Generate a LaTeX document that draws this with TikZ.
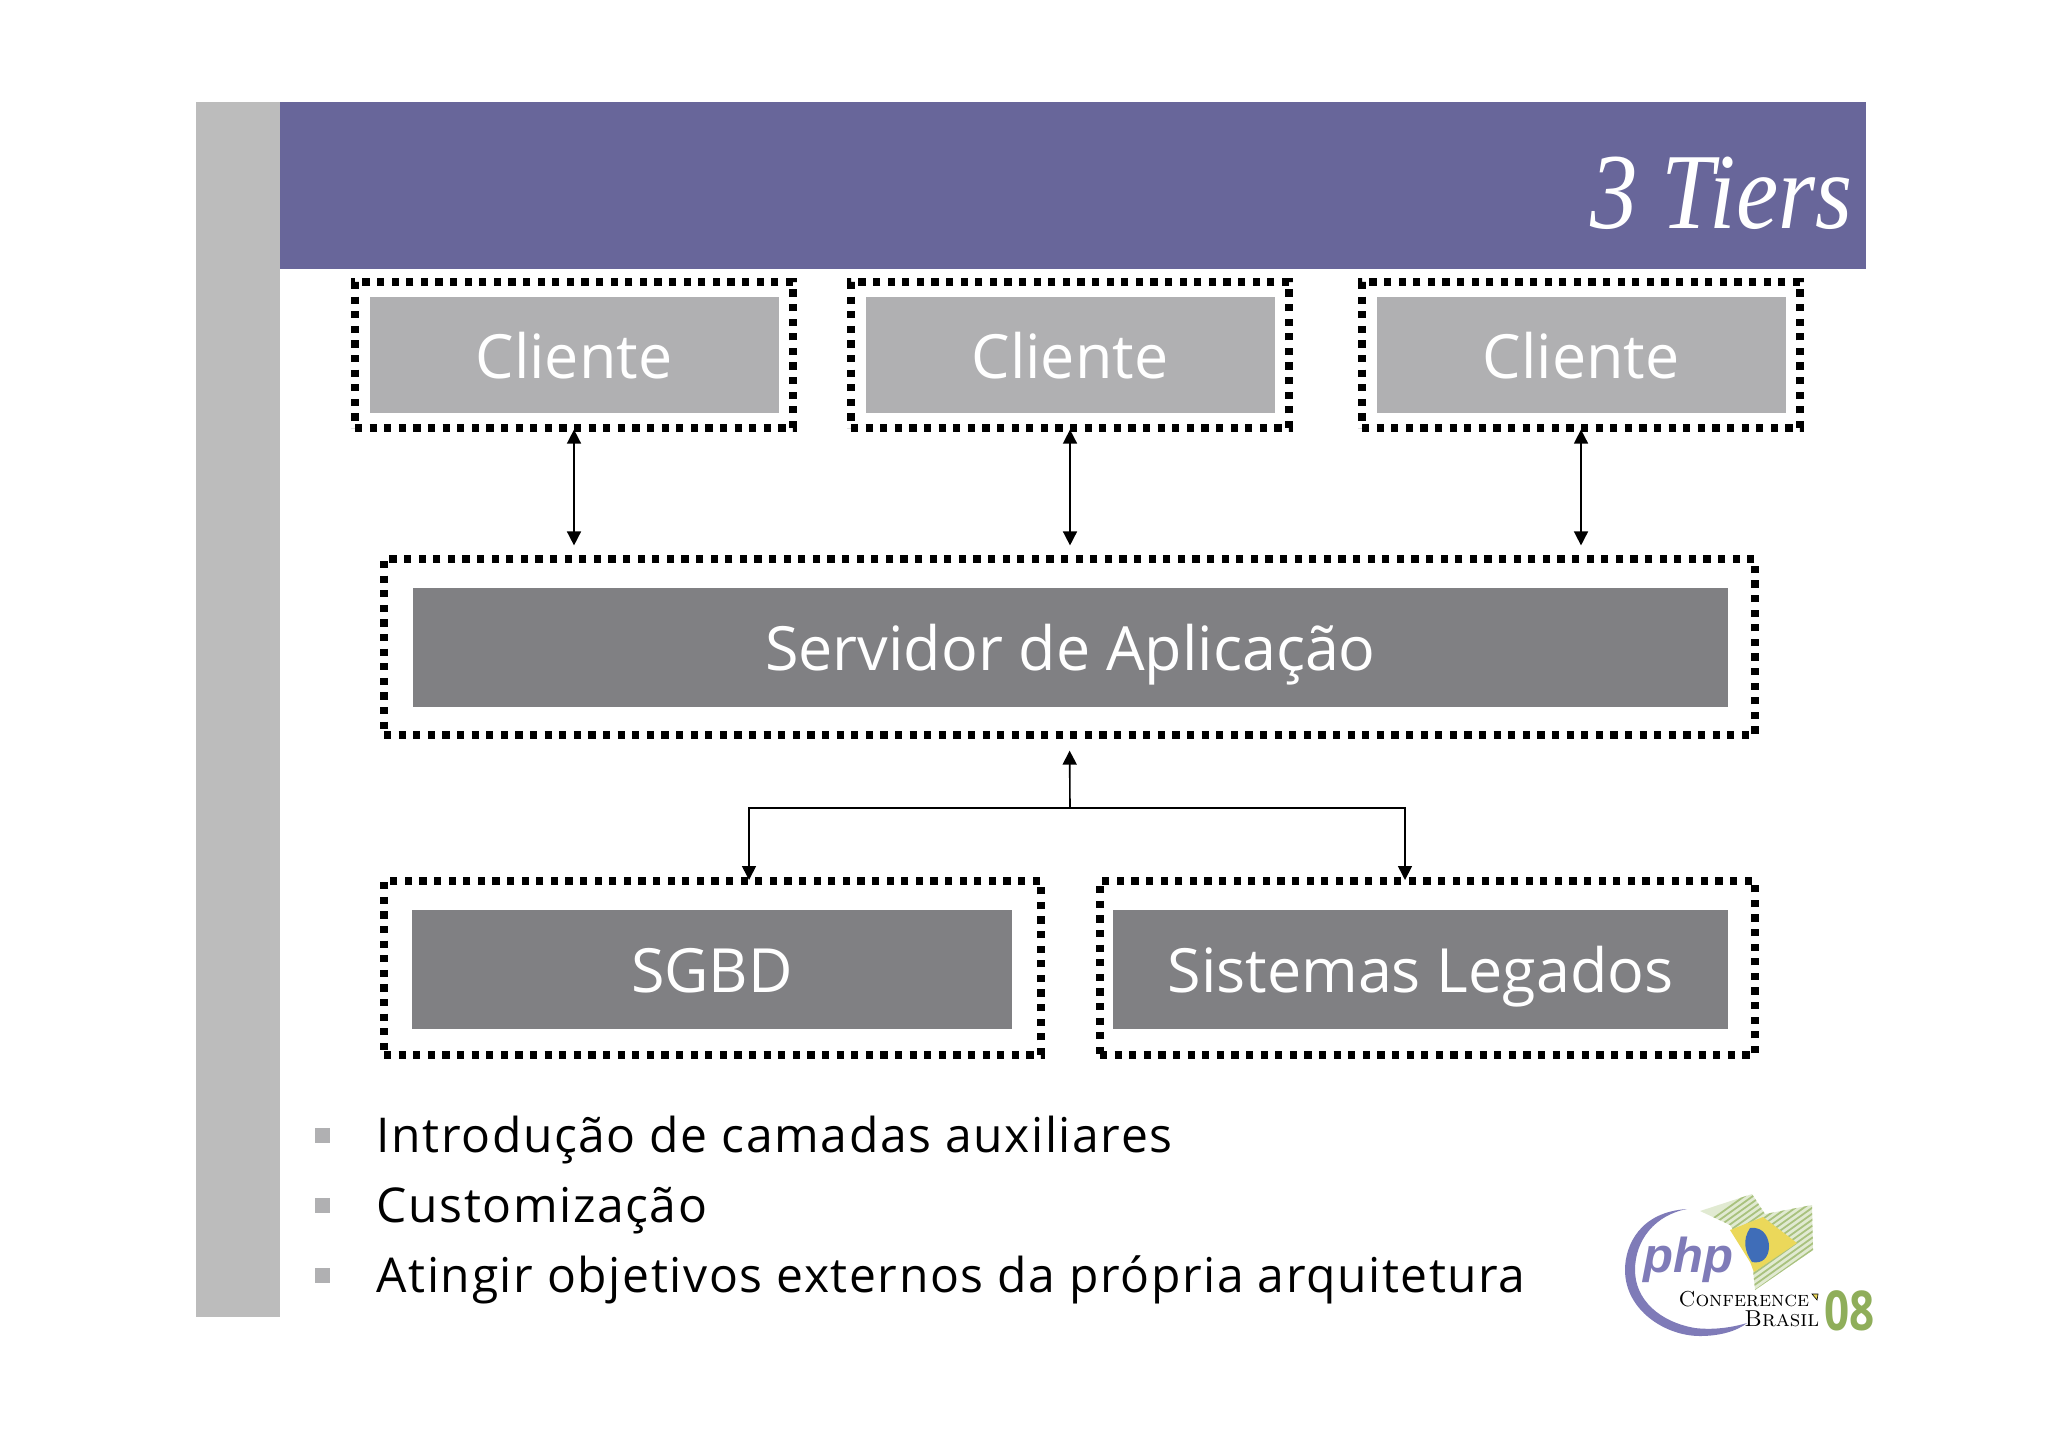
\documentclass[tikz,border=0pt]{standalone}
\usepackage{fontspec}
\usetikzlibrary{arrows.meta}
\newfontfamily\bodyfont{Open Sans}
\newfontfamily\itemfont[LetterSpace=3.3]{Open Sans}
\newfontfamily\titlefont[FakeStretch=0.88]{Liberation Serif}
\newfontfamily\phpfont{Liberation Sans}
\newfontfamily\yearfont[FakeStretch=0.8]{Open Sans}
\definecolor{bannercol}{HTML}{68669A}
\definecolor{barcol}{HTML}{BCBCBC}
\definecolor{lightcol}{HTML}{B0B0B2}
\definecolor{darkcol}{HTML}{808083}
\definecolor{phpcol}{HTML}{7F7BB8}
\definecolor{flagcol}{HTML}{A9C27E}
\definecolor{suncol}{HTML}{EBD85A}
\definecolor{globecol}{HTML}{3F6DB8}
\definecolor{yearcol}{HTML}{8FAE5A}
\begin{document}
\begin{tikzpicture}[x=0.5pt,y=-0.5pt,->,>={Triangle[length=7pt,width=7pt]},line width=0.8pt,
    frame/.style={draw,line width=3.6pt,dash pattern=on 3.6pt off 3.7pt,inner sep=0pt},
    tier/.style={text=white,inner sep=0pt,text height=23pt,text depth=0pt,font=\bodyfont\fontsize{30.5}{36}\selectfont},
    light/.style={tier,fill=lightcol,minimum width=204.5pt,minimum height=58pt},
    dark/.style={tier,fill=darkcol,minimum height=59.5pt},
    bulletbox/.style={fill=lightcol,inner sep=0pt,minimum size=7.5pt},
    item/.style={anchor=base west,inner sep=0pt,font=\itemfont\fontsize{24}{29}\selectfont}]
  \useasboundingbox (0,0) rectangle (2048,1447);
  \node[fill=barcol,inner sep=0pt,minimum width=42pt,minimum height=607.5pt] (bar) at (238,709.5) {};
  \node[fill=bannercol,inner sep=0pt,minimum width=793pt,minimum height=83.5pt] (banner) at (1073,185.5) {};
  \node[anchor=base east,inner sep=0pt,text=white,font=\titlefont\itshape\fontsize{54}{60}\selectfont] (title) at (1853,228) {3 Tiers};

  \node[frame,minimum width=219pt,minimum height=73pt] (f1) at (574,355) {};
  \node[frame,minimum width=219pt,minimum height=73pt] (f2) at (1070,355) {};
  \node[frame,minimum width=219pt,minimum height=73pt] (f3) at (1581,355) {};
  \node[frame,minimum width=685.5pt,minimum height=88pt] (fs) at (1069.5,647) {};
  \node[frame,minimum width=328.5pt,minimum height=87pt] (fb) at (712.5,968) {};
  \node[frame,minimum width=327.5pt,minimum height=87pt] (fl) at (1427.5,968) {};

  \node[light] (c1) at (574,355) {Cliente};
  \node[light] (c2) at (1070,355) {Cliente};
  \node[light] (c3) at (1581,355) {Cliente};
  \node[dark,minimum width=657.5pt] (srv) at (1070.5,647.5) {Servidor de Aplicação};
  \node[dark,minimum width=300pt] (db) at (712,969) {SGBD};
  \node[dark,minimum width=307.5pt] (leg) at (1420.5,969) {Sistemas Legados};

  \coordinate (join) at (1070,808);
  \coordinate (tipb) at (749,880);
  \coordinate (tipl) at (1405,880);
  \draw[<->,shorten <=-1pt,shorten >=5pt] (f1.south) -- (f1.south |- fs.north);
  \draw[<->,shorten <=-1pt,shorten >=5pt] (f2.south) -- (f2.south |- fs.north);
  \draw[<->,shorten <=-1pt,shorten >=5pt] (f3.south) -- (f3.south |- fs.north);
  \draw[shorten >=6pt] (join) -- (fs.south);
  \draw (join) -| (tipb);
  \draw (join) -| (tipl);

  \node[bulletbox] (m1) at (322,1135) {};
  \node[bulletbox] (m2) at (322,1205) {};
  \node[bulletbox] (m3) at (322,1275) {};
  \node[item] (t1) at (376,1152) {Introdução de camadas auxiliares};
  \node[item] (t2) at (376,1222) {Customização};
  \node[item] (t3) at (376,1292) {Atingir objetivos externos da própria arquitetura};

  \begin{scope}[-]
    \begin{scope}
      \clip (1700,1211) -- (1752,1194) -- (1765,1214) -- (1812,1205) -- (1813,1250) -- (1755,1290) -- (1752,1260) -- (1730,1225) -- cycle;
      \fill[flagcol!35] (1690,1190) rectangle (1820,1295);
      \foreach \k in {0,6,...,190}
        \draw[flagcol,line width=0.9pt] (1690,1235+\k) -- (1830,1135+\k);
    \end{scope}
    \fill[suncol] (1730,1230) -- (1763,1217) -- (1797,1243) -- (1754,1272) -- (1750,1262) -- cycle;
    \fill[globecol] (1750,1228) .. controls (1765,1226) and (1769,1240) .. (1769,1246) .. controls (1769,1258) and (1762,1264) .. (1752,1262) .. controls (1745,1252) and (1742,1240) .. (1750,1228) -- cycle;
    \fill[phpcol] (1687,1209) .. controls (1640,1212) and (1625,1245) .. (1625,1270) .. controls (1625,1310) and (1665,1336) .. (1700,1336) .. controls (1720,1336) and (1737,1331) .. (1747,1323) .. controls (1730,1328) and (1712,1330) .. (1695,1328) .. controls (1660,1322) and (1635,1300) .. (1635,1270) .. controls (1635,1240) and (1655,1215) .. (1687,1209) -- cycle;
    \node[anchor=base west,inner sep=0pt,text=phpcol,font=\phpfont\bfseries\itshape\fontsize{24.5}{30}\selectfont] (php) at (1643,1272) {php};
    \node[anchor=base east,inner sep=0pt,font=\fontsize{10.8}{12}\selectfont] (conf) at (1810,1306) {\textsc{Conference}};
    \node[anchor=base east,inner sep=0pt,font=\fontsize{11.5}{14}\selectfont] (bra) at (1820,1326) {\textsc{Brasil}};
    \node[anchor=base west,inner sep=0pt,text=yearcol,font=\yearfont\bfseries\fontsize{27.5}{30}\selectfont] (year) at (1824,1330) {08};
    \fill[suncol,draw=black,line width=0.3pt] (1812,1294) -- (1818,1294) -- (1817,1300) -- cycle;
  \end{scope}
\end{tikzpicture}
\end{document}
